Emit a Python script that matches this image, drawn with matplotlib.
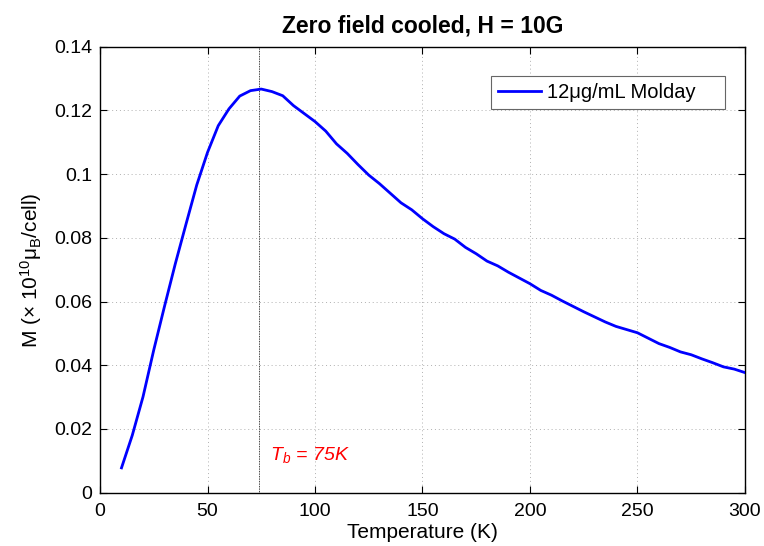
import matplotlib
matplotlib.use("Agg")
import matplotlib.pyplot as plt
from matplotlib.ticker import FuncFormatter

plt.rcParams['font.family'] = ['Liberation Sans', 'DejaVu Sans']
plt.rcParams['mathtext.default'] = 'regular'

# Data
temperature = [10, 15, 20, 25, 30, 35, 40, 45, 50, 55, 60, 65, 70, 75, 80, 85, 90, 95,
               100, 105, 110, 115, 120, 125, 130, 135, 140, 145, 150, 155, 160, 165,
               170, 175, 180, 185, 190, 195, 200, 205, 210, 215, 220, 225, 230, 235,
               240, 245, 250, 255, 260, 265, 270, 275, 280, 285, 290, 295, 300]
magnetization = [0.0078, 0.0180, 0.0301, 0.0448, 0.0585, 0.0718, 0.0843, 0.0966, 0.1068,
                 0.1152, 0.1205, 0.1245, 0.1262, 0.1267, 0.1259, 0.1246, 0.1215, 0.1190,
                 0.1165, 0.1135, 0.1095, 0.1065, 0.1030, 0.0997, 0.0970, 0.0940, 0.0910,
                 0.0888, 0.0860, 0.0835, 0.0813, 0.0796, 0.0770, 0.0750, 0.0727, 0.0712,
                 0.0692, 0.0674, 0.0656, 0.0635, 0.0620, 0.0602, 0.0585, 0.0568, 0.0552,
                 0.0536, 0.0522, 0.0512, 0.0502, 0.0485, 0.0468, 0.0456, 0.0442, 0.0433,
                 0.0420, 0.0408, 0.0395, 0.0388, 0.0377]
blocking_T = 74
x_ticks = [0, 50, 100, 150, 200, 250, 300]
y_ticks = [0, 0.02, 0.04, 0.06, 0.08, 0.10, 0.12, 0.14]

fig = plt.figure(figsize=(7.64, 5.46), dpi=100)
ax = fig.add_axes([0.1309, 0.0976, 0.8442, 0.8169])

ax.plot(temperature, magnetization, color='#0000ff', lw=2.0, label='12\u03bcg/mL Molday    ', zorder=3)
ax.axvline(blocking_T, color='black', lw=0.6, ls=(0, (1, 1)), zorder=2)
ax.text(79, 0.0117, '$T_b$ = 75K', color='red', style='italic', fontsize=14, va='center', ha='left')

ax.set_xlim(0, 300)
ax.set_ylim(0, 0.14)
ax.set_xticks(x_ticks)
ax.set_yticks(y_ticks)
ax.yaxis.set_major_formatter(FuncFormatter(lambda v, p: '%g' % round(v, 4)))
ax.tick_params(direction='in', top=True, right=True, labelsize=14, length=5, width=0.8, pad=5.5)
ax.tick_params(axis='x', pad=7.5)
ax.grid(True, color='#b0b0b0', ls=(0, (1, 3)), lw=0.7)
for s in ax.spines.values():
    s.set_linewidth(1.0)

ax.set_title('Zero field cooled, H = 10G', fontsize=16.5, fontweight='bold', pad=10.5)
ax.set_xlabel('Temperature (K)', fontsize=15)
ax.xaxis.set_label_coords(0.5, -0.069)
ax.set_ylabel('M (\u00d7 10$^{10}$\u03bc$_{B}$/cell)', fontsize=15)
ax.yaxis.set_label_coords(-0.087, 0.5)

leg = ax.legend(loc='upper right', bbox_to_anchor=(0.969, 0.934), borderaxespad=0,
                fontsize=14.5, fancybox=False, edgecolor='#666666', framealpha=1,
                handlelength=2.1, handletextpad=0.3, borderpad=0.35)
leg.get_frame().set_linewidth(0.8)

fig.savefig('out.png', dpi=100)
